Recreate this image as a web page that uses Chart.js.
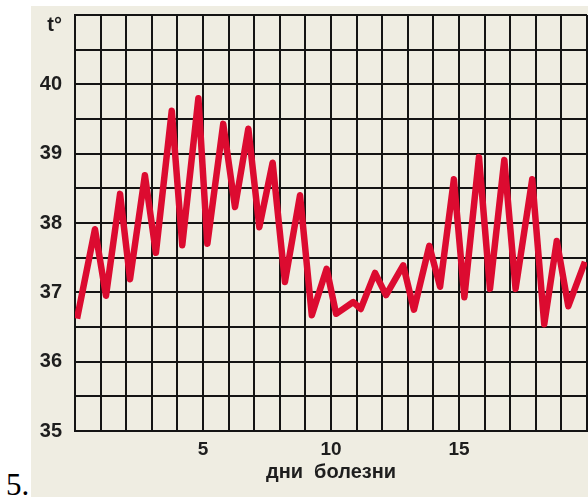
<!DOCTYPE html>
<html>
<head>
<meta charset="utf-8">
<script src="https://cdn.jsdelivr.net/npm/chart.js@4.4.1/dist/chart.umd.min.js"></script>
<style>
    html, body { margin: 0; padding: 0; background: #ffffff; }
    body { width: 588px; height: 497px; position: relative; overflow: hidden; }
    #panel { position: absolute; left: 31px; top: 6px; width: 557px; height: 491px; background: #efede2; }
    #num { position: absolute; left: 6px; top: 468px; font-family: "Liberation Serif", serif; font-size: 31px; color: #000; line-height: 34px; }
</style>
</head>
<body>
<div id="panel"><canvas id="tempChart" width="557" height="491"></canvas></div>
<div id="num">5.</div>
<script>
// дни болезни (утро / вечер) и температура
const days = [0.08, 0.78, 1.21, 1.76, 2.15, 2.73, 3.16, 3.78, 4.19, 4.82,
              5.17, 5.79, 6.25, 6.77, 7.20, 7.72, 8.20, 8.79, 9.25, 9.83,
              10.20, 10.87, 11.16, 11.72, 12.15, 12.82, 13.24, 13.84, 14.26, 14.80,
              15.21, 15.78, 16.21, 16.77, 17.21, 17.86, 18.33, 18.82, 19.27, 19.92];
const temps = [36.62, 37.91, 36.95, 38.42, 37.19, 38.69, 37.57, 39.62, 37.68, 39.80,
               37.70, 39.43, 38.23, 39.36, 37.94, 38.87, 37.15, 38.40, 36.67, 37.34,
               36.69, 36.86, 36.76, 37.28, 36.96, 37.39, 36.75, 37.67, 37.08, 38.63,
               36.93, 38.95, 37.05, 38.91, 37.05, 38.63, 36.54, 37.74, 36.80, 37.44];
const xLabels = [5, 10, 15];
const yLabels = [35, 36, 37, 38, 39, 40];
const yTopLabel = 't°';

const gridColor = '#141414';
const textColor = '#1e1e1e';

const ctx = document.getElementById('tempChart').getContext('2d');
new Chart(ctx, {
    type: 'line',
    data: {
        datasets: [{
            data: days.map((d, i) => ({ x: d, y: temps[i] })),
            borderColor: '#dc0b30',
            borderWidth: 6.5,
            borderJoinStyle: 'round',
            borderCapStyle: 'butt',
            pointRadius: 0,
            tension: 0,
            fill: false
        }]
    },
    options: {
        responsive: false,
        animation: false,
        layout: { padding: { left: 0, top: 9, right: 1, bottom: 0 } },
        plugins: {
            legend: { display: false },
            tooltip: { enabled: false }
        },
        scales: {
            x: {
                type: 'linear',
                min: 0,
                max: 20,
                afterFit: (scale) => {
                    scale.height = 66;
                    scale.paddingLeft = 0;
                    scale.paddingRight = 0;
                },
                grid: { color: gridColor, lineWidth: 2, drawTicks: false },
                border: { color: gridColor, width: 2 },
                ticks: {
                    stepSize: 1,
                    autoSkip: false,
                    maxRotation: 0,
                    padding: 7,
                    color: textColor,
                    font: { family: 'Liberation Sans', size: 19, weight: 'bold' },
                    callback: (v) => xLabels.includes(v) ? String(v) : ''
                },
                title: {
                    display: true,
                    text: 'дни  болезни',
                    color: textColor,
                    font: { family: 'Liberation Sans', size: 20, weight: 'bold' },
                    padding: { top: 0, bottom: 13 }
                }
            },
            y: {
                min: 35,
                max: 41,
                afterFit: (scale) => {
                    scale.width = 44;
                    scale.paddingTop = 0;
                    scale.paddingBottom = 0;
                },
                grid: { color: gridColor, lineWidth: 2, drawTicks: false },
                border: { color: gridColor, width: 2 },
                ticks: {
                    stepSize: 0.5,
                    autoSkip: false,
                    padding: 13,
                    color: textColor,
                    font: { family: 'Liberation Sans', size: 20, weight: 'bold', lineHeight: 1.0 },
                    callback: (v) => {
                        if (v === 41) return ['', yTopLabel];
                        return yLabels.includes(v) ? String(v) : '';
                    }
                }
            }
        }
    }
});
</script>
</body>
</html>
